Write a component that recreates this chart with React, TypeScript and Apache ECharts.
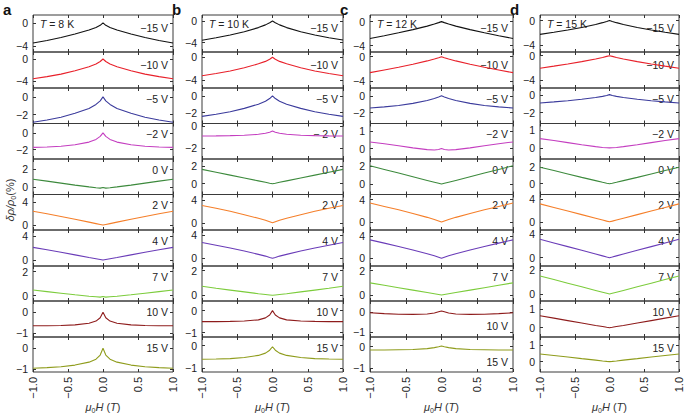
import React, { useEffect, useRef } from "react";
import * as echarts from "echarts";

// magnetic field (T) sample points shared by all curves
const FIELD = [-1, -0.8, -0.6, -0.4, -0.2, -0.1, -0.04, 0, 0.04, 0.1, 0.2, 0.4, 0.6, 0.8, 1];
const GATES = ["−15 V", "−10 V", "−5 V", "−2 V", "0 V", "2 V", "4 V", "7 V", "10 V", "15 V"];
const GATE_LABEL_B4 = "− 2 V";
const TEMPS = ["8 K", "10 K", "12 K", "15 K"];
const PANEL_LETTERS = ["a", "b", "c", "d"];

// δρ/ρ0 (%) curves, one per gate voltage, for each temperature
const T8K = [
  [-3.45, -3.0, -2.5, -1.9, -1.2, -0.75, -0.38, 0.05, -0.38, -0.75, -1.2, -1.9, -2.5, -3.0, -3.45],
  [-3.6, -3.2, -2.75, -2.15, -1.4, -0.9, -0.45, 0.0, -0.45, -0.9, -1.4, -2.15, -2.75, -3.2, -3.6],
  [-2.85, -2.6, -2.3, -1.85, -1.3, -0.85, -0.45, 0.0, -0.45, -0.85, -1.3, -1.85, -2.3, -2.6, -2.85],
  [-1.72, -1.68, -1.6, -1.42, -1.1, -0.78, -0.42, 0.0, -0.42, -0.78, -1.1, -1.42, -1.6, -1.68, -1.72],
  [0.88, 0.66, 0.44, 0.22, 0.02, -0.07, -0.12, -0.04, -0.12, -0.07, 0.02, 0.22, 0.44, 0.66, 0.88],
  [2.4, 1.95, 1.48, 1.0, 0.5, 0.25, 0.1, 0.0, 0.1, 0.25, 0.5, 1.0, 1.48, 1.95, 2.4],
  [2.1, 1.7, 1.28, 0.86, 0.43, 0.22, 0.09, 0.0, 0.09, 0.22, 0.43, 0.86, 1.28, 1.7, 2.1],
  [0.47, 0.34, 0.21, 0.08, -0.04, -0.09, -0.12, -0.06, -0.12, -0.09, -0.04, 0.08, 0.21, 0.34, 0.47],
  [-0.64, -0.64, -0.63, -0.6, -0.52, -0.42, -0.26, 0.0, -0.26, -0.42, -0.52, -0.6, -0.63, -0.64, -0.64],
  [-0.95, -0.92, -0.88, -0.8, -0.66, -0.52, -0.32, 0.0, -0.32, -0.52, -0.66, -0.8, -0.88, -0.92, -0.95],
];
const T10K = [
  [-3.55, -3.1, -2.6, -2.0, -1.25, -0.75, -0.35, -0.05, -0.35, -0.75, -1.25, -2.0, -2.6, -3.1, -3.5],
  [-3.25, -2.85, -2.4, -1.85, -1.15, -0.72, -0.35, 0.0, -0.35, -0.72, -1.15, -1.85, -2.4, -2.85, -3.25],
  [-2.45, -2.2, -1.9, -1.5, -1.0, -0.65, -0.33, 0.0, -0.33, -0.65, -1.0, -1.5, -1.9, -2.2, -2.45],
  [-0.87, -0.86, -0.84, -0.8, -0.72, -0.63, -0.53, -0.43, -0.53, -0.63, -0.72, -0.8, -0.84, -0.86, -0.87],
  [1.6, 1.28, 0.96, 0.64, 0.32, 0.16, 0.06, 0.0, 0.06, 0.16, 0.32, 0.64, 0.96, 1.28, 1.6],
  [3.1, 2.6, 2.05, 1.45, 0.8, 0.45, 0.18, 0.0, 0.18, 0.45, 0.8, 1.45, 2.05, 2.6, 3.1],
  [2.7, 2.25, 1.78, 1.25, 0.68, 0.38, 0.15, 0.0, 0.15, 0.38, 0.68, 1.25, 1.78, 2.25, 2.7],
  [0.72, 0.55, 0.4, 0.25, 0.1, 0.04, 0.0, -0.03, 0.0, 0.04, 0.1, 0.25, 0.4, 0.55, 0.72],
  [-0.5, -0.5, -0.49, -0.47, -0.42, -0.33, -0.2, 0.0, -0.2, -0.33, -0.42, -0.47, -0.49, -0.5, -0.5],
  [-0.6, -0.59, -0.57, -0.52, -0.43, -0.33, -0.2, -0.05, -0.2, -0.33, -0.43, -0.52, -0.57, -0.59, -0.6],
];
const T12K = [
  [-2.8, -2.35, -1.85, -1.33, -0.75, -0.4, -0.17, 0.0, -0.17, -0.4, -0.75, -1.33, -1.85, -2.35, -2.8],
  [-2.65, -2.2, -1.75, -1.25, -0.7, -0.38, -0.16, 0.0, -0.16, -0.38, -0.7, -1.25, -1.75, -2.2, -2.65],
  [-1.45, -1.32, -1.15, -0.9, -0.55, -0.32, -0.14, 0.0, -0.14, -0.32, -0.55, -0.9, -1.15, -1.32, -1.45],
  [0.38, 0.28, 0.16, 0.04, -0.06, -0.08, -0.05, 0.0, -0.05, -0.08, -0.06, 0.04, 0.16, 0.28, 0.38],
  [2.0, 1.6, 1.2, 0.8, 0.4, 0.2, 0.08, 0.0, 0.08, 0.2, 0.4, 0.8, 1.2, 1.6, 2.0],
  [3.4, 2.8, 2.2, 1.55, 0.85, 0.47, 0.2, 0.0, 0.2, 0.47, 0.85, 1.55, 2.2, 2.8, 3.4],
  [3.3, 2.72, 2.12, 1.5, 0.82, 0.45, 0.19, 0.0, 0.19, 0.45, 0.82, 1.5, 2.12, 2.72, 3.3],
  [1.0, 0.8, 0.6, 0.4, 0.2, 0.1, 0.04, 0.0, 0.04, 0.1, 0.2, 0.4, 0.6, 0.8, 1.0],
  [-0.02, -0.06, -0.09, -0.1, -0.08, -0.03, 0.03, 0.07, 0.03, -0.03, -0.08, -0.1, -0.09, -0.06, -0.02],
  [-0.15, -0.15, -0.14, -0.13, -0.09, -0.04, 0.0, 0.03, 0.0, -0.04, -0.09, -0.13, -0.14, -0.15, -0.15],
];
const T15K = [
  [-2.25, -1.9, -1.52, -1.12, -0.62, -0.32, -0.12, 0.05, -0.12, -0.32, -0.62, -1.12, -1.52, -1.9, -2.25],
  [-2.07, -1.72, -1.36, -0.98, -0.55, -0.3, -0.12, 0.0, -0.12, -0.3, -0.55, -0.98, -1.36, -1.72, -2.07],
  [-0.9, -0.78, -0.64, -0.48, -0.28, -0.15, -0.06, 0.05, -0.06, -0.15, -0.28, -0.48, -0.64, -0.78, -0.9],
  [0.53, 0.42, 0.3, 0.18, 0.07, 0.025, 0.005, 0.0, 0.005, 0.025, 0.07, 0.18, 0.3, 0.42, 0.53],
  [1.95, 1.55, 1.15, 0.75, 0.36, 0.16, 0.05, 0.0, 0.05, 0.16, 0.36, 0.75, 1.15, 1.55, 1.95],
  [3.2, 2.56, 1.92, 1.28, 0.64, 0.32, 0.12, 0.0, 0.12, 0.32, 0.64, 1.28, 1.92, 2.56, 3.2],
  [3.15, 2.52, 1.89, 1.26, 0.63, 0.31, 0.12, 0.0, 0.12, 0.31, 0.63, 1.26, 1.89, 2.52, 3.15],
  [1.5, 1.2, 0.9, 0.6, 0.3, 0.15, 0.06, 0.0, 0.06, 0.15, 0.3, 0.6, 0.9, 1.2, 1.5],
  [0.64, 0.51, 0.38, 0.25, 0.12, 0.06, 0.02, 0.0, 0.02, 0.06, 0.12, 0.25, 0.38, 0.51, 0.64],
  [0.46, 0.37, 0.28, 0.18, 0.09, 0.04, 0.015, 0.0, 0.015, 0.04, 0.09, 0.18, 0.28, 0.37, 0.46],
];
const ALL_CURVES = [T8K, T10K, T12K, T15K];

// y tick labels per panel
const YTICKS_AB = [[-4, 0], [-4, 0], [-2, 0], [-2, 0], [0, 2], [0, 4], [0, 4], [0, 2], [-1, 0], [-1, 0]];
const YTICKS_C = [[-4, 0], [-4, 0], [-2, 0], [0, 1], [0, 2], [0, 4], [0, 4], [0, 2], [-1, 0], [-1, 0]];
const YTICKS_D = [[-4, 0], [-4, 0], [-2, 0], [0, 1], [0, 2], [0, 4], [0, 4], [0, 2], [0, 1], [0, 1]];
const ALL_YTICKS = [YTICKS_AB, YTICKS_AB, YTICKS_C, YTICKS_D];

// y axis limits [min, max] per panel
const YLIM_A = [[-5.0, 1.4], [-5.27, 1.27], [-3.0, 1.0], [-3.1, 1.1], [-0.83, 3.13], [-0.86, 5.3], [-1, 5], [-0.44, 2.47], [-1.18, 0.54], [-1.13, 0.54]];
const YLIM_B = [[-5.7, 1.05], [-5.4, 0.93], [-3.3, 0.93], [-2.96, 0.26], [-1.2, 2.76], [-1.29, 5.06], [-1.32, 4.86], [-0.5, 2.39], [-1.2, 0.44], [-1.16, 0.38]];
const YLIM_C = [[-5.05, 1.1], [-5.2, 0.78], [-3.3, 0.93], [-0.6, 1.44], [-1.14, 2.74], [-1.41, 4.93], [-1.38, 5.07], [-0.5, 2.39], [-1.23, 0.57], [-1.17, 0.45]];
const YLIM_D = [[-5.15, 0.94], [-5.3, 0.6], [-3.23, 0.8], [-0.64, 1.4], [-1.28, 2.92], [-1.47, 4.88], [-1.42, 4.74], [-0.58, 2.33], [-0.5, 1.43], [-0.62, 1.48]];
const ALL_YLIM = [YLIM_A, YLIM_B, YLIM_C, YLIM_D];

const COLORS = ["#111111", "#e8202a", "#3b3b9c", "#c43ec0", "#3d8a3d", "#f57f2a", "#6a3cb8", "#7ccc3c", "#8e1c1c", "#8f9c1c"];

const COL_LEFT = [33, 202, 370, 540];
const COL_RIGHT = [173, 343, 513, 679];
const ROW_EDGES = [15, 52, 88, 123.5, 159, 194.5, 230, 266, 301, 337, 372];
const FONT = "'Liberation Sans', Arial, sans-serif";
const minus = (v: number | string) => String(v).replace("-", "−");

export default function App() {
  const ref = useRef<HTMLDivElement>(null);
  useEffect(() => {
    document.body.style.margin = "0";
    const chart = echarts.init(ref.current!, null, { renderer: "svg" });
    const grids: any[] = [];
    const xAxes: any[] = [];
    const yAxes: any[] = [];
    const series: any[] = [];
    const graphics: any[] = [];
    const tickStyle = { color: "#333", width: 1 };

    for (let c = 0; c < 4; c++) {
      const left = COL_LEFT[c];
      const width = COL_RIGHT[c] - COL_LEFT[c];
      for (let r = 0; r < 10; r++) {
        const g = c * 10 + r;
        const top = ROW_EDGES[r];
        const height = ROW_EDGES[r + 1] - ROW_EDGES[r];
        grids.push({ left, top, width, height, show: true, borderColor: "#3a3a3a", borderWidth: 1 });
        const xBase = {
          gridIndex: g, type: "value", min: -1, max: 1, interval: 0.5,
          axisLine: { show: false, onZero: false }, splitLine: { show: false },
          axisTick: { show: true, inside: true, length: 3, lineStyle: tickStyle },
        };
        xAxes.push({
          ...xBase, position: "bottom",
          axisLabel: r === 9
            ? { show: true, rotate: 90, margin: 5, fontSize: 11, color: "#222", fontFamily: FONT, formatter: (v: number) => minus(Number(v).toFixed(1)) }
            : { show: false },
        });
        xAxes.push({ ...xBase, position: "top", axisLabel: { show: false } });
        const ticks = ALL_YTICKS[c][r];
        const [ymin, ymax] = ALL_YLIM[c][r];
        const yBase = {
          gridIndex: g, type: "value", min: ymin, max: ymax,
          axisLine: { show: false, onZero: false }, splitLine: { show: false },
          axisTick: { show: true, inside: true, length: 3, customValues: ticks, lineStyle: tickStyle },
        };
        yAxes.push({
          ...yBase, position: "left",
          axisLabel: { show: true, customValues: ticks, margin: 5, fontSize: 10.5, lineHeight: 10, color: "#222", fontFamily: FONT, formatter: (v: number) => minus(v) },
        });
        yAxes.push({ ...yBase, position: "right", axisLabel: { show: false } });
        const ys = ALL_CURVES[c][r];
        series.push({
          type: "line", xAxisIndex: 2 * g, yAxisIndex: 2 * g,
          data: FIELD.map((x, i) => [x, ys[i]]),
          showSymbol: false, symbol: "none", silent: true,
          lineStyle: { color: COLORS[r], width: 1.1 }, itemStyle: { color: COLORS[r] },
        });
        const bottomLabel = c === 2 && r >= 8;
        graphics.push({
          type: "text",
          x: COL_RIGHT[c] - 5,
          y: bottomLabel ? top + 25 : top + (r < 2 ? 12.5 : 10.5),
          style: {
            text: c === 1 && r === 3 ? GATE_LABEL_B4 : GATES[r],
            align: "right", verticalAlign: "middle", fontSize: 10.5, fontFamily: FONT, fill: "#222",
          },
        });
      }
      // panel letter
      graphics.push({
        type: "text", x: COL_LEFT[c] - 30, y: 2,
        style: { text: PANEL_LETTERS[c], fontSize: 15, fontWeight: "bold", fontFamily: FONT, fill: "#111" },
      });
      // temperature
      graphics.push({
        type: "text", x: COL_LEFT[c] + 7, y: ROW_EDGES[0] + 9,
        style: {
          text: "{i|T} = " + TEMPS[c], verticalAlign: "middle", fontSize: 10.5, fontFamily: FONT, fill: "#222",
          rich: { i: { fontStyle: "italic", fontSize: 10.5, fontFamily: FONT, fill: "#222" } },
        },
      });
      // x axis title
      graphics.push({
        type: "text", x: (COL_LEFT[c] + COL_RIGHT[c]) / 2, y: 407,
        style: {
          text: "{i|μ}{s|0}{i|H} ({i|T})", align: "center", verticalAlign: "middle", fontSize: 11, fontFamily: FONT, fill: "#333",
          rich: {
            i: { fontStyle: "italic", fontSize: 11, fontFamily: FONT, fill: "#333" },
            s: { fontSize: 7, fontFamily: FONT, fill: "#333", padding: [6, 0, 0, 0] },
          },
        },
      });
    }
    // y axis title
    graphics.push({
      type: "text", x: 10, y: 200, rotation: Math.PI / 2,
      style: {
        text: "{i|δρ/ρ}{s|0}(%)", align: "center", verticalAlign: "middle", fontSize: 11, fontFamily: FONT, fill: "#333",
        rich: {
          i: { fontStyle: "italic", fontSize: 11, fontFamily: FONT, fill: "#333" },
          s: { fontSize: 7, fontFamily: FONT, fill: "#333", padding: [6, 0, 0, 0] },
        },
      },
    });

    chart.setOption({
      animation: false,
      backgroundColor: "#ffffff",
      grid: grids,
      xAxis: xAxes,
      yAxis: yAxes,
      series,
      graphic: graphics,
    });
    return () => chart.dispose();
  }, []);
  return <div ref={ref} style={{ width: 685, height: 419 }} />;
}
